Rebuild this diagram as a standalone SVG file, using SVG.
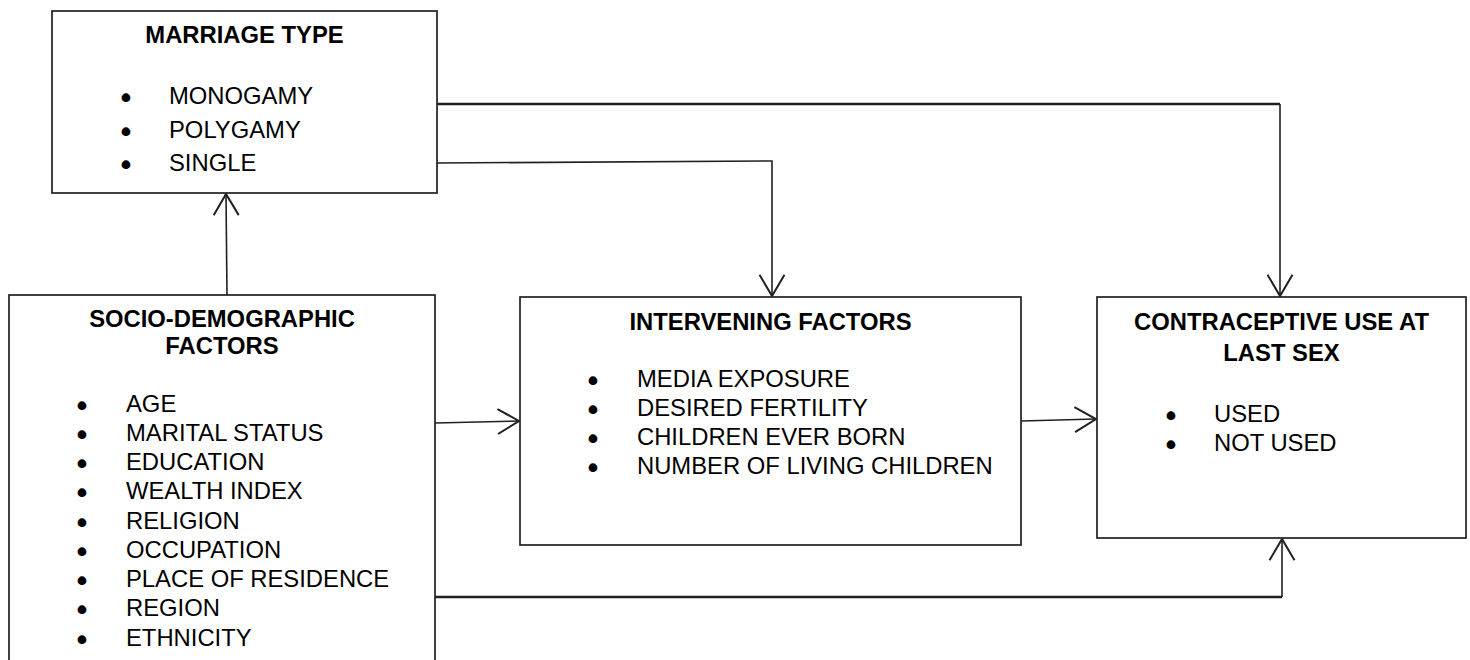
<svg xmlns="http://www.w3.org/2000/svg" width="1470" height="660" viewBox="0 0 1470 660">
<style>
.box{fill:#fff;stroke:#231f20;stroke-width:1.7}
.t{font-family:"Liberation Sans",Arial,sans-serif;font-size:23.8px;fill:#000}
.b{font-weight:bold}
.c{text-anchor:middle}
.bl{font-family:"Liberation Sans",Arial,sans-serif;font-size:24px;fill:#000;stroke:#000;stroke-width:2.2;stroke-linejoin:round;text-anchor:middle}
.ln{fill:none;stroke:#231f20;stroke-width:1.6}
.thick{fill:none;stroke:#231f20;stroke-width:2.7}
</style>
<defs>
<marker id="arr" markerUnits="userSpaceOnUse" markerWidth="30" markerHeight="30" viewBox="-20 -12 22 24" refX="0" refY="0" orient="auto" overflow="visible">
<path d="M-17,-10 L0,0 L-17,10" fill="none" stroke="#231f20" stroke-width="1.6"/>
</marker>
</defs>
<rect width="1470" height="660" fill="#fff"/>
<g id="connectors">
<line class="ln" x1="227" y1="295" x2="226" y2="194" marker-end="url(#arr)"/>
<polyline class="thick" points="437,104 1280,104"/>
<line class="ln" x1="1280" y1="104" x2="1280" y2="296" marker-end="url(#arr)"/>
<polyline class="ln" points="437,163 772,161 772,296" marker-end="url(#arr)"/>
<line class="ln" x1="435" y1="423" x2="519" y2="421" marker-end="url(#arr)"/>
<line class="ln" x1="1021" y1="421" x2="1096" y2="419" marker-end="url(#arr)"/>
<polyline class="thick" points="435,597 1282,597"/>
<line class="ln" x1="1282" y1="597" x2="1282" y2="539" marker-end="url(#arr)"/>
</g>
<g id="marriage">
<rect class="box" x="52" y="11" width="385" height="182"/>
<text class="t b c" x="244.5" y="43">MARRIAGE TYPE</text>
<text class="bl" x="126" y="106">•</text><text class="t" x="169" y="104">MONOGAMY</text>
<text class="bl" x="126" y="140">•</text><text class="t" x="169" y="138">POLYGAMY</text>
<text class="bl" x="126" y="173">•</text><text class="t" x="169" y="171">SINGLE</text>
</g>
<g id="socio">
<rect class="box" x="9" y="295" width="426" height="400"/>
<text class="t b c" x="222" y="327">SOCIO-DEMOGRAPHIC</text>
<text class="t b c" x="222" y="354">FACTORS</text>
<text class="bl" x="82" y="414">•</text><text class="t" x="126" y="412">AGE</text>
<text class="bl" x="82" y="443">•</text><text class="t" x="126" y="441">MARITAL STATUS</text>
<text class="bl" x="82" y="472">•</text><text class="t" x="126" y="470">EDUCATION</text>
<text class="bl" x="82" y="501">•</text><text class="t" x="126" y="499">WEALTH INDEX</text>
<text class="bl" x="82" y="531">•</text><text class="t" x="126" y="529">RELIGION</text>
<text class="bl" x="82" y="560">•</text><text class="t" x="126" y="558">OCCUPATION</text>
<text class="bl" x="82" y="589">•</text><text class="t" x="126" y="587">PLACE OF RESIDENCE</text>
<text class="bl" x="82" y="618">•</text><text class="t" x="126" y="616">REGION</text>
<text class="bl" x="82" y="648">•</text><text class="t" x="126" y="646">ETHNICITY</text>
</g>
<g id="intervening">
<rect class="box" x="520" y="297" width="501" height="248"/>
<text class="t b c" x="770.5" y="330">INTERVENING FACTORS</text>
<text class="bl" x="593" y="389">•</text><text class="t" x="637" y="387">MEDIA EXPOSURE</text>
<text class="bl" x="593" y="418">•</text><text class="t" x="637" y="416">DESIRED FERTILITY</text>
<text class="bl" x="593" y="447">•</text><text class="t" x="637" y="445">CHILDREN EVER BORN</text>
<text class="bl" x="593" y="476">•</text><text class="t" x="637" y="474">NUMBER OF LIVING CHILDREN</text>
</g>
<g id="contraceptive">
<rect class="box" x="1097" y="297" width="369" height="241"/>
<text class="t b c" x="1281.5" y="330">CONTRACEPTIVE USE AT</text>
<text class="t b c" x="1281.5" y="361">LAST SEX</text>
<text class="bl" x="1171" y="424">•</text><text class="t" x="1214" y="422">USED</text>
<text class="bl" x="1171" y="453">•</text><text class="t" x="1214" y="451">NOT USED</text>
</g>
</svg>
